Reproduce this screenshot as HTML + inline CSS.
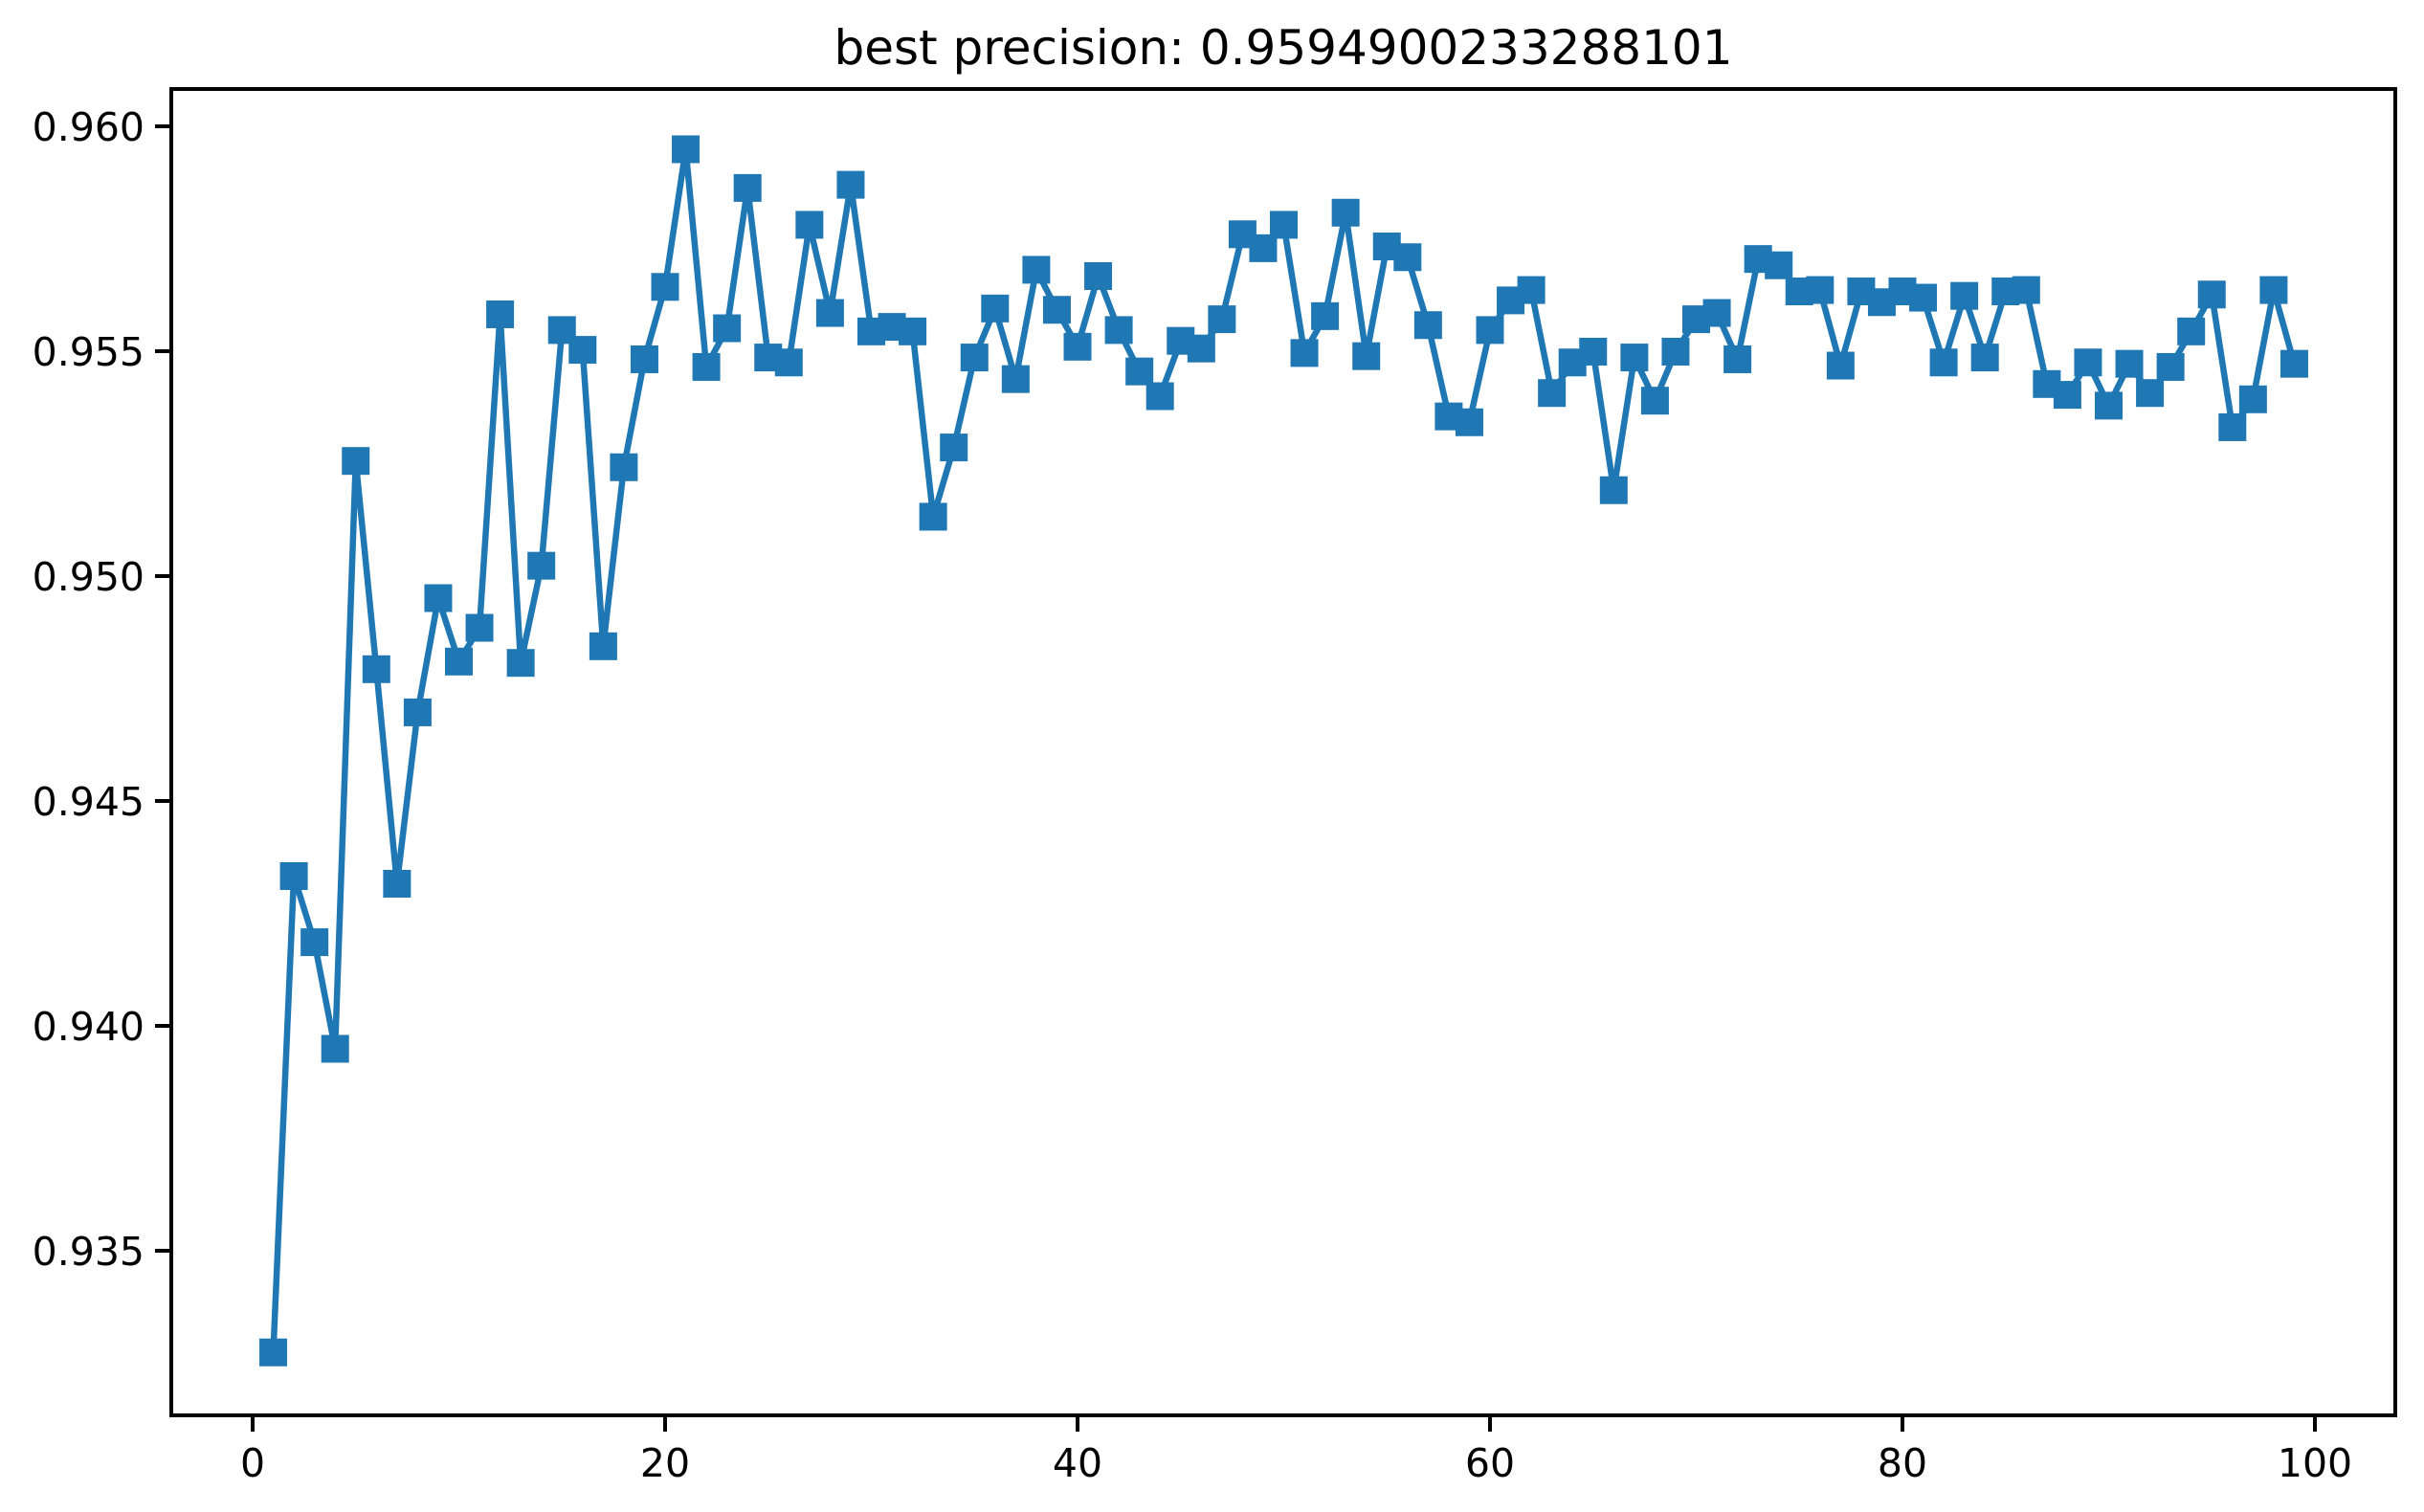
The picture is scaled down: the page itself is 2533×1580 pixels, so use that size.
<!DOCTYPE html>
<html><head><meta charset="utf-8"><style>
html,body{margin:0;padding:0;background:#fff;}
svg{display:block;font-family:"DejaVu Sans","Liberation Sans",sans-serif;}
</style></head><body>
<svg id="chart" width="2533" height="1580" viewBox="0 0 2533 1580" xmlns="http://www.w3.org/2000/svg">
<rect width="2533" height="1580" fill="#fff"/>
<text x="1341" y="67" font-size="50" text-anchor="middle" fill="#000">best precision: 0.9594900233288101</text>
<g id="series"></g>
<rect x="179" y="93" width="2324" height="1386" fill="none" stroke="#000" stroke-width="4"/>
<g id="ticks"></g>
</svg>
<script>
const epochs = [];
for (let i = 1; i <= 99; i++) epochs.push(i);
const precision = [0.93274,0.94333,0.94186,0.93949,0.95256,0.94793,0.94316,0.94697,0.94951,0.94810,
0.94885,0.95582,0.94807,0.95023,0.95547,0.95503,0.94844,0.95242,0.95482,0.95643,
0.95949,0.95465,0.95551,0.95863,0.95486,0.95475,0.95781,0.95585,0.95870,0.95544,
0.95554,0.95544,0.95132,0.95286,0.95486,0.95595,0.95438,0.95681,0.95592,0.95510,
0.95667,0.95547,0.95455,0.95400,0.95523,0.95506,0.95571,0.95760,0.95729,0.95781,
0.95496,0.95578,0.95808,0.95489,0.95733,0.95709,0.95558,0.95355,0.95342,0.95547,
0.95613,0.95636,0.95407,0.95475,0.95499,0.95191,0.95486,0.95390,0.95499,0.95571,
0.95585,0.95482,0.95705,0.95691,0.95633,0.95636,0.95468,0.95633,0.95609,0.95633,
0.95619,0.95475,0.95623,0.95486,0.95633,0.95636,0.95427,0.95403,0.95475,0.95379,
0.95472,0.95407,0.95465,0.95544,0.95626,0.95331,0.95393,0.95636,0.95472];
const xTicks = [0,20,40,60,80,100];
const yTicks = [0.935,0.940,0.945,0.950,0.955,0.960];
const yTickLabels = ["0.935","0.940","0.945","0.950","0.955","0.960"];

const NS = "http://www.w3.org/2000/svg";
const L=179,R=2503,T=93,B=1479;
function xs(v){return 264 + v*21.55;}
function ys(v){return 132 + (0.960-v)*47000;}

const series=document.getElementById('series');
let d='';
epochs.forEach((e,i)=>{d+=(i?'L':'M')+xs(e).toFixed(2)+' '+ys(precision[i]).toFixed(2);});
const path=document.createElementNS(NS,'path');
path.setAttribute('d',d);
path.setAttribute('fill','none');
path.setAttribute('stroke','#1f77b4');
path.setAttribute('stroke-width','6.5');
path.setAttribute('stroke-linejoin','round');


series.appendChild(path);
epochs.forEach((e,i)=>{
  const r=document.createElementNS(NS,'rect');
  r.setAttribute('x',(xs(e)-14.5).toFixed(2));
  r.setAttribute('y',(ys(precision[i])-14.5).toFixed(2));
  r.setAttribute('width','29');r.setAttribute('height','29');
  r.setAttribute('fill','#1f77b4');
  
  
  series.appendChild(r);
});

const ticks=document.getElementById('ticks');
xTicks.forEach(t=>{
  const x=xs(t);
  const ln=document.createElementNS(NS,'line');
  ln.setAttribute('x1',x);ln.setAttribute('x2',x);ln.setAttribute('y1',B);ln.setAttribute('y2',B+17);
  ln.setAttribute('stroke','#000');ln.setAttribute('stroke-width','4');
  
  
  ticks.appendChild(ln);
  const tx=document.createElementNS(NS,'text');
  tx.setAttribute('x',x);tx.setAttribute('y',B+64);
  tx.setAttribute('font-size','41');tx.setAttribute('text-anchor','middle');
  tx.textContent=String(t);
  
  
  ticks.appendChild(tx);
});
yTicks.forEach((t,i)=>{
  const y=ys(t);
  const ln=document.createElementNS(NS,'line');
  ln.setAttribute('x1',L-17);ln.setAttribute('x2',L);ln.setAttribute('y1',y);ln.setAttribute('y2',y);
  ln.setAttribute('stroke','#000');ln.setAttribute('stroke-width','4');
  
  
  ticks.appendChild(ln);
  const tx=document.createElementNS(NS,'text');
  tx.setAttribute('x',L-28);tx.setAttribute('y',y+15);
  tx.setAttribute('font-size','41');tx.setAttribute('text-anchor','end');
  tx.textContent=yTickLabels[i];
  
  
  ticks.appendChild(tx);
});
</script>
</body></html>
